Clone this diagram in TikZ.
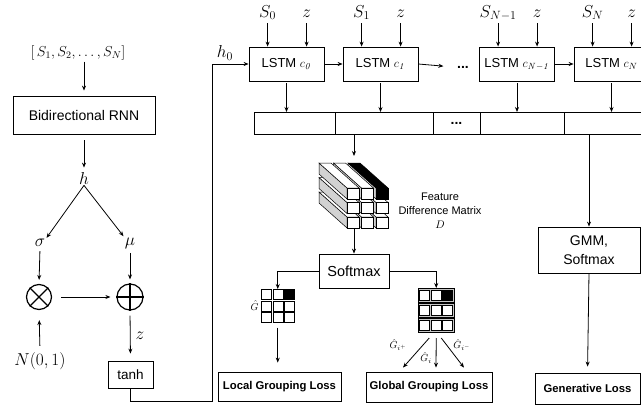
\documentclass[tikz,border=0pt]{standalone}
\usepackage[no-math]{fontspec}
\setmainfont{Liberation Sans}
\usetikzlibrary{positioning,calc,arrows.meta}

\begin{document}
\begin{tikzpicture}[x=1pt, y=-1pt, line width=0.8pt, >={Stealth[length=5pt,width=4pt]},
    box/.style={draw, inner sep=0pt, align=center, font=\fontsize{14}{19}\selectfont},
    lstm/.style={box, minimum width=75pt, minimum height=34pt, font=\fontsize{13}{16}\selectfont},
    loss/.style={box, font=\bfseries\fontsize{11.3}{14}\selectfont},
    lbl/.style={inner sep=1pt, font=\fontsize{17.28}{20}\selectfont},
    inp/.style={lbl, text height=12pt, text depth=4.5pt},
    small/.style={inner sep=1pt, font=\fontsize{10}{12}\selectfont},
    seg/.style={draw, minimum height=22pt, inner sep=0pt, outer sep=0pt, anchor=north west},
    cell/.style={draw, minimum size=10pt, inner sep=0pt, line width=0.5pt}]
    \useasboundingbox (0,0) rectangle (641,407);

    \node[lbl, font=\fontsize{14.4}{17}\selectfont] (seq) at (78,53) {$[\,S_1,S_2,\dots,S_N]$};
    \node[box, minimum width=142pt, minimum height=38pt] (rnn) at (84,115) {Bidirectional RNN};
    \node[lbl] (h) at (84,178) {$h$};
    \node[lbl] (sigma) at (40,243) {$\sigma$};
    \node[lbl] (mu) at (130,243) {$\mu$};
    \node[circle, draw, line width=1.2pt, minimum size=25pt, inner sep=0pt] (times) at (39,297) {};
    \node[circle, draw, line width=1.2pt, minimum size=26pt, inner sep=0pt] (plus) at (130,297) {};
    \draw[line width=1.2pt] (times.north west) -- (times.south east) (times.north east) -- (times.south west);
    \draw[line width=1.2pt] (plus.north) -- (plus.south) (plus.west) -- (plus.east);
    \node[lbl] (noise) at (40,361) {$N(0,1)$};
    \node[box, minimum width=45pt, minimum height=27pt, font=\fontsize{13.5}{16}\selectfont] (tanh) at (130.5,374.5) {tanh};

    \draw[->, shorten >=5pt] (rnn.north |- seq.south) -- (rnn.north);
    \draw[->, shorten <=6pt, shorten >=3pt] (rnn.south) -- (h.north);
    \draw[->] (h.south) -- (sigma.north east);
    \draw[->] (h.south) -- (mu.north west);
    \draw[->, shorten <=3pt, shorten >=4pt] (sigma.south) -- (times.north);
    \draw[->, shorten <=3pt, shorten >=4pt] (mu.south) -- (plus.north);
    \draw[->, shorten <=5pt, shorten >=10pt] (noise.north) -- (times.south);
    \draw[->, shorten <=9pt, shorten >=6pt] (times.east) -- (plus.west);
    \draw[->, shorten <=5pt, shorten >=7pt] (plus.south) -- (tanh.north) node[lbl, midway, right=4pt] {$z$};

    \node[lstm] (c0) at (286.5,64) {LSTM $c_{\mathit{0}}$};
    \node[lstm] (c1) at (380.5,64) {LSTM $c_{\mathit{1}}$};
    \node[font=\bfseries\fontsize{14}{14}\selectfont] (ldots) at (463,67) {...};
    \node[lstm] (cn1) at (517,64) {LSTM $c_{\mathit{N-1}}$};
    \node[lstm] (cn) at (611.5,64) {LSTM $c_N$};
    \foreach \b/\s in {c0/S_0, c1/S_1, cn1/S_{N-1}, cn/S_N} {
      \node[inp] (\b-s) at ($(\b.north west)+(19,-33)$) {$\s$};
      \node[inp] (\b-z) at ($(\b.north west)+(58,-33)$) {$z$};
      \draw[->] (\b-s.south) -- (\b-s.south |- \b.north);
      \draw[->] (\b-z.south) -- (\b-z.south |- \b.north);
    }
    \draw[->] (c0.east) -- (c1.west);
    \draw[->, shorten >=10pt] (c1.east) -- (ldots.west);
    \draw[->] (cn1.east) -- (cn.west);

    \coordinate (hc) at (212,401);
    \draw[->] (tanh.south) |- (hc) |- (c0.west);
    \node[lbl] (h0) at (225,53) {$h_0$};

    \node[seg, minimum width=81pt] (m0) at (254,112) {};
    \node[seg, minimum width=98pt] (m1) at (m0.north east) {};
    \node[seg, minimum width=47pt, font=\bfseries\fontsize{14}{14}\selectfont] (md) at (m1.north east) {...};
    \node[seg, minimum width=84pt] (m2) at (md.north east) {};
    \node[seg, minimum width=90pt] (m3) at (m2.north east) {};
    \foreach \b in {c0,c1,cn1,cn}
      \draw[->, shorten <=2pt] (\b.south) -- (\b.south |- m0.north);

    \foreach \r in {2,1,0}
      \foreach \c in {2,1,0} {
        \pgfmathsetmacro\bx{347+14.5*\c}
        \pgfmathsetmacro\by{188+14.5*\r}
        \def\face{white}
        \ifnum\r=0 \ifnum\c=2 \def\face{black}\fi\fi
        \filldraw[fill=gray!35, line width=0.5pt] (\bx,\by) -- ++(-28,-25) -- ++(0,11) -- ++(28,25) -- cycle;
        \filldraw[fill=\face, line width=0.5pt] (\bx,\by) -- ++(12,0) -- ++(-28,-25) -- ++(-12,0) -- cycle;
        \filldraw[fill=\face, line width=0.5pt] (\bx,\by) rectangle ++(12,11);
      }
    \coordinate (cubetop) at (354,156);
    \coordinate (cubebot) at (354,229);
    \node[align=center, font=\fontsize{11}{14}\selectfont] (fdm) at (440,211) {Feature\\Difference Matrix\\$D$};

    \node[box, minimum width=70pt, minimum height=34pt, font=\fontsize{14.5}{17}\selectfont] (soft) at (354,271) {Softmax};
    \node[box, minimum width=102pt, minimum height=46pt] (gmm) at (589,250) {GMM,\\Softmax};
    \node[loss, minimum width=123pt, minimum height=29pt] (local) at (279.5,386.5) {Local Grouping Loss};
    \node[loss, minimum width=126pt, minimum height=30pt] (glob) at (429,387) {Global Grouping Loss};
    \node[loss, minimum width=105pt, minimum height=31pt] (gen) at (587.5,388.5) {Generative Loss};

    \foreach \c in {0,1,2}
      \foreach \r in {0,1,2}
        \node[cell, anchor=north west] (lg-\c-\r) at (261+11.5*\c, 289+11.5*\r) {};
    \node[cell, fill=black] at (lg-2-0) {};
    \node[small, left=1pt] (ghat) at (lg-0-1.west) {$\hat{G}$};

    \foreach \r in {0,1,2} {
      \node[draw, fill=gray!45, minimum width=36pt, minimum height=13.5pt, inner sep=0pt, line width=0.5pt, anchor=north west] (grow\r) at (418, 288+15*\r) {};
      \foreach \c in {0,1,2}
        \node[cell, fill=white] (gg-\c-\r) at ($(grow\r.west)+(6.5+11.5*\c,0)$) {};
    }
    \node[cell, fill=black] at (gg-2-0) {};

    \draw[->] (cubetop |- m1.south) -- (cubetop);
    \draw[->] (cubebot) -- (soft.north);
    \draw[->] (gmm.north |- m3.south) -- (gmm.north);
    \draw[->, shorten >=6pt] (gmm.south) -- (gen.north);
    \draw[->] (soft.west) -| (lg-1-0.north);
    \draw[->] (soft.east) -| (grow0.north);
    \draw[->, shorten <=5pt, shorten >=9pt] (lg-1-2.south) -- (lg-1-2.south |- local.north);

    \coordinate (gsrc) at ($(grow2.south)+(0,6)$);
    \draw[->] ($(gsrc)+(-7,0)$) -- ($(glob.north)+(-26,-4)$);
    \draw[->] (gsrc) -- ($(glob.north)+(7,-4)$);
    \draw[->] ($(gsrc)+(5,0)$) -- ($(glob.north)+(35,-4)$);
    \node[small] (gplus) at (398,345) {$\hat{G}_{i^{+}}$};
    \node[small] (gi) at (426,358) {$\hat{G}_{i}$};
    \node[small] (gminus) at (462,345) {$\hat{G}_{i^{-}}$};
  \end{tikzpicture}
\end{document}
